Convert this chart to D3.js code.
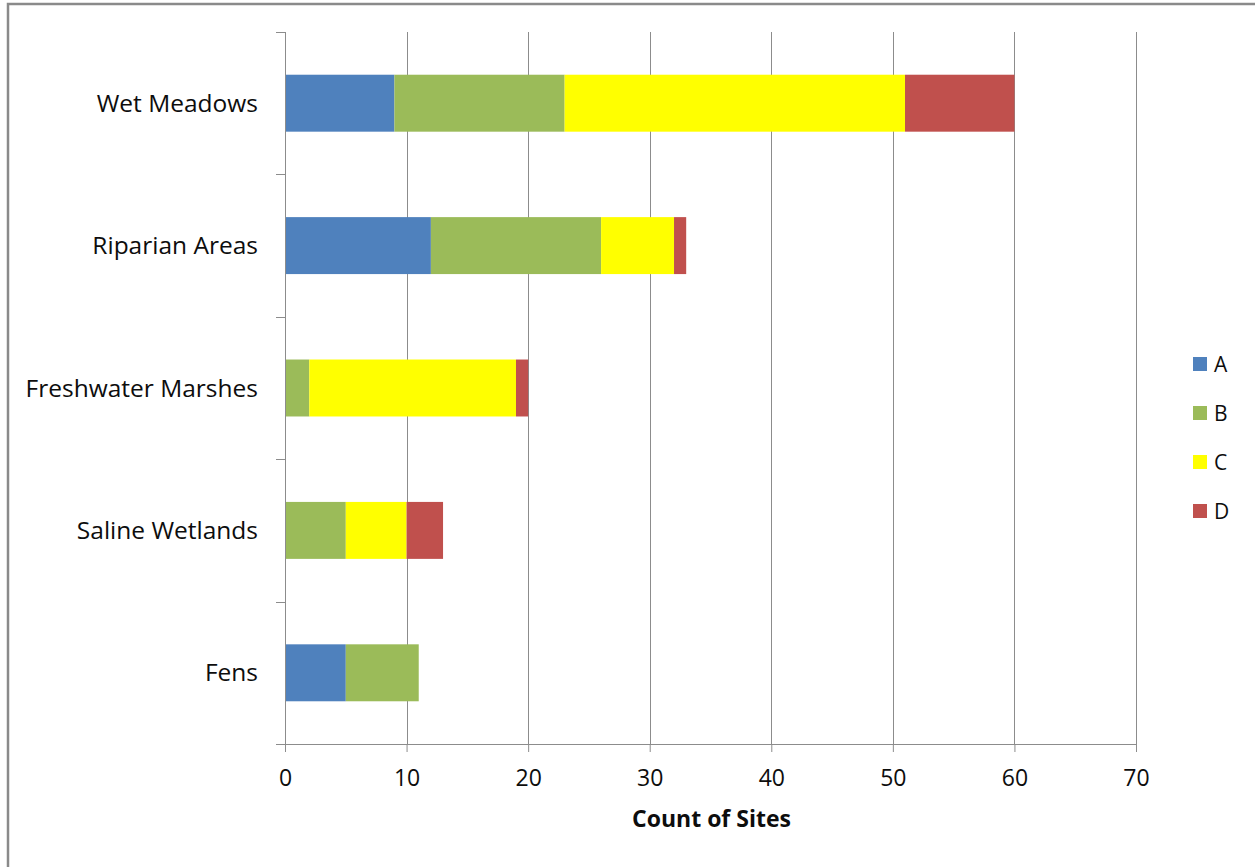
<!DOCTYPE html>
<html>
<head>
<meta charset="utf-8">
<script src="https://cdn.jsdelivr.net/npm/d3@7"></script>
<style>
  html, body { margin: 0; padding: 0; background: #fff; }
  svg { display: block; }
  text { font-family: "Open Sans", "Noto Sans", sans-serif; fill: #0d0d0d; }
</style>
</head>
<body>
<svg id="chart" width="1255" height="867"></svg>
<script>
// Wetland types, top to bottom
const categories = ["Wet Meadows", "Riparian Areas", "Freshwater Marshes", "Saline Wetlands", "Fens"];
// Site counts per condition class, one array per series
const seriesNames = ["A", "B", "C", "D"];
const valuesA = [9, 12, 0, 0, 5];
const valuesB = [14, 14, 2, 5, 6];
const valuesC = [28, 6, 17, 5, 0];
const valuesD = [9, 1, 1, 3, 0];
const xTicks = [0, 10, 20, 30, 40, 50, 60, 70];
const xTitle = "Count of Sites";

const colors = { A: "#4F81BD", B: "#9BBB59", C: "#FFFF00", D: "#C0504D" };

const svg = d3.select("#chart");

// Outer chart frame
svg.append("rect")
  .attr("x", 8).attr("y", 4)
  .attr("width", 1300).attr("height", 900)
  .attr("fill", "none").attr("stroke", "#8a8a8a").attr("stroke-width", 2.5);

const plot = { left: 285, right: 1136, top: 32, bottom: 744 };

const x = d3.scaleLinear().domain([0, 70]).range([plot.left, plot.right]);
const y = d3.scaleBand().domain(categories).range([plot.top, plot.bottom]).padding(0);

const rows = categories.map((c, i) => ({
  category: c, A: valuesA[i], B: valuesB[i], C: valuesC[i], D: valuesD[i]
}));
const stacked = d3.stack().keys(seriesNames)(rows);

// Vertical gridlines
svg.append("g")
  .selectAll("line")
  .data(xTicks.filter(t => t > 0))
  .join("line")
  .attr("x1", d => Math.round(x(d)) + 0.5).attr("x2", d => Math.round(x(d)) + 0.5)
  .attr("y1", plot.top).attr("y2", plot.bottom)
  .attr("stroke", "#8c8c8c").attr("stroke-width", 1);

// Bars
const barH = y.bandwidth() * 0.4;
svg.append("g")
  .selectAll("g")
  .data(stacked)
  .join("g")
  .attr("fill", d => colors[d.key])
  .selectAll("rect")
  .data(d => d.filter(s => s[1] - s[0] > 0))
  .join("rect")
  .attr("x", d => x(d[0]))
  .attr("width", d => x(d[1]) - x(d[0]))
  .attr("y", d => y(d.data.category) + (y.bandwidth() - barH) / 2)
  .attr("height", barH);

// X axis
const xAxis = svg.append("g")
  .attr("transform", `translate(0,${plot.bottom})`)
  .call(d3.axisBottom(x).tickValues(xTicks).tickSize(8).tickPadding(18).tickSizeOuter(0));
xAxis.select(".domain").attr("stroke", "#8c8c8c");
xAxis.selectAll(".tick line").attr("stroke", "#8c8c8c");
xAxis.selectAll(".tick text")
  .attr("font-size", 23).attr("font-family", "Open Sans").attr("fill", "#0d0d0d");

// Y axis: category ticks at band boundaries
svg.append("line")
  .attr("x1", plot.left + 0.5).attr("x2", plot.left + 0.5)
  .attr("y1", plot.top).attr("y2", plot.bottom)
  .attr("stroke", "#8c8c8c");
const boundaries = categories.map(c => y(c)).concat([plot.bottom]);
svg.append("g")
  .selectAll("line")
  .data(boundaries)
  .join("line")
  .attr("x1", plot.left - 9).attr("x2", plot.left)
  .attr("y1", d => Math.round(d) + 0.5).attr("y2", d => Math.round(d) + 0.5)
  .attr("stroke", "#8c8c8c");

svg.append("g")
  .selectAll("text")
  .data(categories)
  .join("text")
  .attr("x", 258)
  .attr("y", d => y(d) + y.bandwidth() / 2)
  .attr("dy", "0.35em")
  .attr("text-anchor", "end")
  .attr("font-size", 24.5)
  .text(d => d);

// Axis title
svg.append("text")
  .attr("x", (plot.left + plot.right) / 2 + 1)
  .attr("y", 827)
  .attr("text-anchor", "middle")
  .attr("font-size", 23)
  .attr("font-weight", "bold")
  .text(xTitle);

// Legend
const legend = svg.append("g")
  .selectAll("g")
  .data(seriesNames)
  .join("g")
  .attr("transform", (d, i) => `translate(1193,${357 + i * 49})`);
legend.append("rect")
  .attr("width", 14).attr("height", 14)
  .attr("fill", d => colors[d]);
legend.append("text")
  .attr("x", 21).attr("y", 7).attr("dy", "0.36em")
  .attr("font-size", 21)
  .text(d => d);
</script>
</body>
</html>
